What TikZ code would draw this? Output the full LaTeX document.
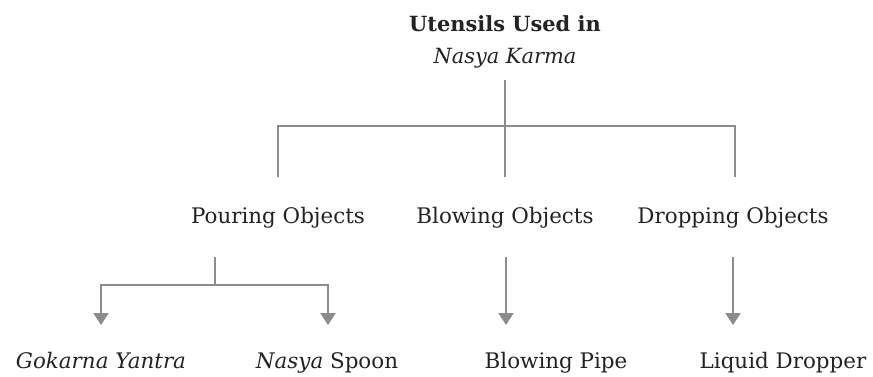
\documentclass[tikz,border=0pt]{standalone}
\usepackage{fontspec}
\setmainfont{DejaVu Serif}
\usetikzlibrary{arrows.meta}
\definecolor{linegray}{RGB}{140,140,140}
\definecolor{textgray}{RGB}{35,35,35}
\tikzset{
  lbl/.style={inner sep=0pt, text=textgray, font=\fontsize{21.5}{26}\selectfont, anchor=base},
  ttl/.style={inner sep=0pt, text=textgray, font=\fontsize{21}{32}\selectfont, align=center, anchor=south},
  conn/.style={draw=linegray, line width=2.2bp},
  arr/.style={conn, -{Triangle[width=15bp,length=12bp]}},
}
\begin{document}
\begin{tikzpicture}[x=1bp,y=-1bp]
\useasboundingbox[fill=white] (0,0) rectangle (873,376);
% title
\node[ttl] (t) at (505,68.5) {\textbf{Utensils Used in}\\\textit{Nasya Karma}};
% level 2
\node[lbl] (p) at (278,223) {Pouring Objects};
\node[lbl] (b) at (505,223) {Blowing Objects};
\node[lbl] (d) at (733,223) {Dropping Objects};
% level 3
\node[lbl] (g) at (101,368) {\textit{Gokarna Yantra}};
\node[lbl] (n) at (327,368) {\textit{Nasya} Spoon};
\node[lbl] (bp) at (556,368) {Blowing Pipe};
\node[lbl] (ld) at (783,368) {Liquid Dropper};
% connector ends
\coordinate (tBot) at (505,80);
\coordinate (bar) at (505,126);
\coordinate (pTop) at (278,177);
\coordinate (bTop) at (505,177);
\coordinate (dTop) at (735,177);
\coordinate (pBot) at (215,257);
\coordinate (pj) at (215,285);
\coordinate (gTip) at (101,325);
\coordinate (nTip) at (328,325);
\coordinate (bBot) at (506,257);
\coordinate (bTip) at (506,325);
\coordinate (dBot) at (733,257);
\coordinate (dTip) at (733,325);
% connectors
\draw[conn] (tBot) -- (bTop);
\draw[conn] (pTop) -- (pTop |- bar) -- (dTop |- bar) -- (dTop);
\draw[conn] (pBot) -- (pj);
\draw[arr] (pj) -| (gTip);
\draw[arr] (pj) -| (nTip);
\draw[arr] (bBot) -- (bTip);
\draw[arr] (dBot) -- (dTip);
\end{tikzpicture}
\end{document}
